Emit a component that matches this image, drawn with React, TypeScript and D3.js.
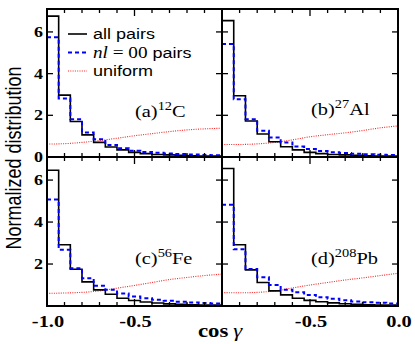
import React from "react";
import * as d3 from "d3";

// 15 bins between cos = -1 and 0
const binEdges = d3.range(16).map((i) => -1 + i / 15);
const uniformX = [-1, -0.9, -0.8, -0.7, -0.6, -0.5, -0.4, -0.3, -0.2, -0.1, 0];

const allC = [6.76, 2.97, 1.7, 1.06, 0.7, 0.48, 0.34, 0.22, 0.16, 0.12, 0.1, 0.08, 0.06, 0.05, 0.04];
const nl00C = [5.74, 2.81, 1.81, 1.18, 0.85, 0.58, 0.42, 0.3, 0.24, 0.2, 0.17, 0.14, 0.12, 0.1, 0.08];
const uniC = [0.62, 0.64, 0.7, 0.79, 0.9, 1.02, 1.12, 1.22, 1.3, 1.35, 1.38];

const allAl = [6.54, 2.94, 1.73, 1.1, 0.73, 0.49, 0.34, 0.22, 0.16, 0.12, 0.1, 0.08, 0.06, 0.05, 0.04];
const nl00Al = [5.42, 2.77, 1.81, 1.26, 0.94, 0.69, 0.5, 0.38, 0.29, 0.23, 0.19, 0.15, 0.13, 0.11, 0.09];
const uniAl = [0.6, 0.6, 0.63, 0.7, 0.82, 0.97, 1.07, 1.16, 1.27, 1.4, 1.49];

const allFe = [6.47, 2.92, 1.75, 1.15, 0.77, 0.56, 0.37, 0.26, 0.19, 0.14, 0.1, 0.08, 0.06, 0.05, 0.04];
const nl00Fe = [5.07, 2.68, 1.8, 1.32, 0.97, 0.77, 0.6, 0.45, 0.37, 0.3, 0.25, 0.2, 0.17, 0.14, 0.12];
const uniFe = [0.6, 0.62, 0.65, 0.72, 0.85, 0.98, 1.12, 1.26, 1.36, 1.45, 1.52];

const allPb = [6.55, 2.92, 1.72, 1.12, 0.72, 0.53, 0.37, 0.27, 0.2, 0.15, 0.11, 0.08, 0.06, 0.05, 0.04];
const nl00Pb = [4.83, 2.71, 1.76, 1.37, 1.0, 0.77, 0.65, 0.53, 0.42, 0.34, 0.27, 0.22, 0.18, 0.15, 0.12];
const uniPb = [0.64, 0.63, 0.65, 0.72, 0.86, 1.0, 1.12, 1.24, 1.34, 1.45, 1.56];

const panelTags = ["(a)", "(b)", "(c)", "(d)"];
const nuclMass = ["12", "27", "56", "208"];
const nuclName = ["C", "Al", "Fe", "Pb"];
const yTicksTop = [0, 2, 4, 6];
const yTicksBottom = [2, 4, 6];
const xLabelsLeft = [-1, -0.5];
const xLabelsRight = [-0.5, 0];

const W = 415;
const H = 344;
const SX = 1.2; // text in the original is stretched sideways
const cols = [[47, 222], [222, 398]];
const rows = [[9, 157], [157, 306]];
const serif = "'Liberation Serif', 'DejaVu Serif', serif";
const sans = "'Liberation Sans', Arial, sans-serif";

const panels = [
  { all: allC, nl: nl00C, uni: uniC, col: 0, row: 0, labelY: 117 },
  { all: allAl, nl: nl00Al, uni: uniAl, col: 1, row: 0, labelY: 115 },
  { all: allFe, nl: nl00Fe, uni: uniFe, col: 0, row: 1, labelY: 264 },
  { all: allPb, nl: nl00Pb, uni: uniPb, col: 1, row: 1, labelY: 264 },
];
const labelX = [135, 311];

const Panel = ({ p, i }) => {
  const [x0, x1] = cols[p.col];
  const [y0, y1] = rows[p.row];
  const x = d3.scaleLinear().domain([-1, 0]).range([x0, x1]);
  const y = d3.scaleLinear().domain([0, 7.1]).range([y1, y0]);

  const step = d3
    .line<number>()
    .x((_, k) => x(binEdges[k]))
    .y((d) => y(d))
    .curve(d3.curveStepAfter);
  const hist = (vals) => step([...vals, vals[vals.length - 1]]);
  const uniLine = d3
    .line<number>()
    .x((_, k) => x(uniformX[k]))
    .y((d) => y(d))
    .curve(d3.curveMonotoneX);

  const clipId = `clip${i}`;
  const xt = x.ticks(10);
  const yt = [0, 2, 4, 6];
  const xLabels = p.col === 0 ? xLabelsLeft : xLabelsRight;

  return (
    <g>
      <clipPath id={clipId}>
        <rect x={x0} y={y0} width={x1 - x0} height={y1 - y0} />
      </clipPath>
      <g clipPath={`url(#${clipId})`} fill="none">
        <path d={uniLine(p.uni)} stroke="#ff2020" strokeWidth={1.1} strokeDasharray="1,1.3" />
        <path d={hist(p.all)} stroke="#000" strokeWidth={1.6} />
        <path d={hist(p.nl)} stroke="#0000ff" strokeWidth={2} strokeDasharray="4,3" />
      </g>
      {xt.map((t) => {
        const major = Math.abs(t + 1) < 1e-6 || Math.abs(t + 0.5) < 1e-6 || Math.abs(t) < 1e-6;
        const len = major ? 7 : 4;
        return (
          <g key={t} stroke="#000" strokeWidth={1.3}>
            <line x1={x(t)} x2={x(t)} y1={y1} y2={y1 - len} />
            <line x1={x(t)} x2={x(t)} y1={y0} y2={y0 + len} />
          </g>
        );
      })}
      {yt.map((t) => (
        <g key={t} stroke="#000" strokeWidth={1.3}>
          <line x1={x0} x2={x0 + 6} y1={y(t)} y2={y(t)} />
          <line x1={x1} x2={x1 - 6} y1={y(t)} y2={y(t)} />
        </g>
      ))}
      <rect x={x0} y={y0} width={x1 - x0} height={y1 - y0} fill="none" stroke="#000" strokeWidth={2} />
      {p.col === 0 &&
        (p.row === 0 ? yTicksTop : yTicksBottom).map((t) => (
          <text
            key={t}
            transform={`translate(${x0 - 4},${y(t) + 5}) scale(${SX},1)`}
            textAnchor="end"
            fontFamily={serif}
            fontWeight="bold"
            fontSize={15}
          >
            {t}
          </text>
        ))}
      {p.row === 1 &&
        xLabels.map((t) => (
          <text
            key={t}
            transform={`translate(${x(t) + 1},327) scale(${SX},1)`}
            textAnchor="middle"
            fontFamily={serif}
            fontWeight="bold"
            fontSize={17}
          >
            {t.toFixed(1)}
          </text>
        ))}
      <text transform={`translate(${labelX[p.col]},${p.labelY}) scale(${SX},1)`} fontFamily={serif} fontSize={17}>
        {panelTags[i]}
        <tspan fontSize={12} dy={-7}>{nuclMass[i]}</tspan>
        <tspan dy={7}>{nuclName[i]}</tspan>
      </text>
    </g>
  );
};

const Legend = () => {
  const rowsL = [
    { y: 34, stroke: "#000", dash: null, w: 1.6 },
    { y: 52.5, stroke: "#0000ff", dash: "4,3", w: 2 },
    { y: 71, stroke: "#ff2020", dash: "1,1.3", w: 1.1 },
  ];
  return (
    <g>
      {rowsL.map((r, k) => (
        <line key={k} x1={68} x2={87} y1={r.y} y2={r.y} stroke={r.stroke} strokeWidth={r.w} strokeDasharray={r.dash ?? undefined} />
      ))}
      <text transform={`translate(93,39) scale(${SX},1)`} fontFamily={sans} fontSize={15}>all pairs</text>
      <text transform={`translate(93,57.5) scale(${SX},1)`} fontSize={15}>
        <tspan fontFamily={serif} fontStyle="italic" fontSize={16}>nl</tspan>
        <tspan fontFamily={serif} fontSize={16}> = 00</tspan>
        <tspan fontFamily={sans}> pairs</tspan>
      </text>
      <text transform={`translate(93,76) scale(${SX},1)`} fontFamily={sans} fontSize={15}>uniform</text>
    </g>
  );
};

export default function App() {
  return (
    <svg width={W} height={H} style={{ position: "absolute", left: 0, top: 0, background: "#fff" }}>
      {panels.map((p, i) => (
        <Panel key={i} p={p} i={i} />
      ))}
      <Legend />
      <text
        transform={`translate(20.5,158) scale(${SX},1) rotate(-90)`}
        textAnchor="middle"
        fontFamily={sans}
        fontSize={18}
      >
        Normalized distribution
      </text>
      <text transform={`translate(198,337) scale(${SX},1)`} fontFamily={serif} fontSize={19}>
        <tspan fontWeight="bold">cos</tspan>
        <tspan fontStyle="italic" dx={4}>γ</tspan>
      </text>
    </svg>
  );
}
